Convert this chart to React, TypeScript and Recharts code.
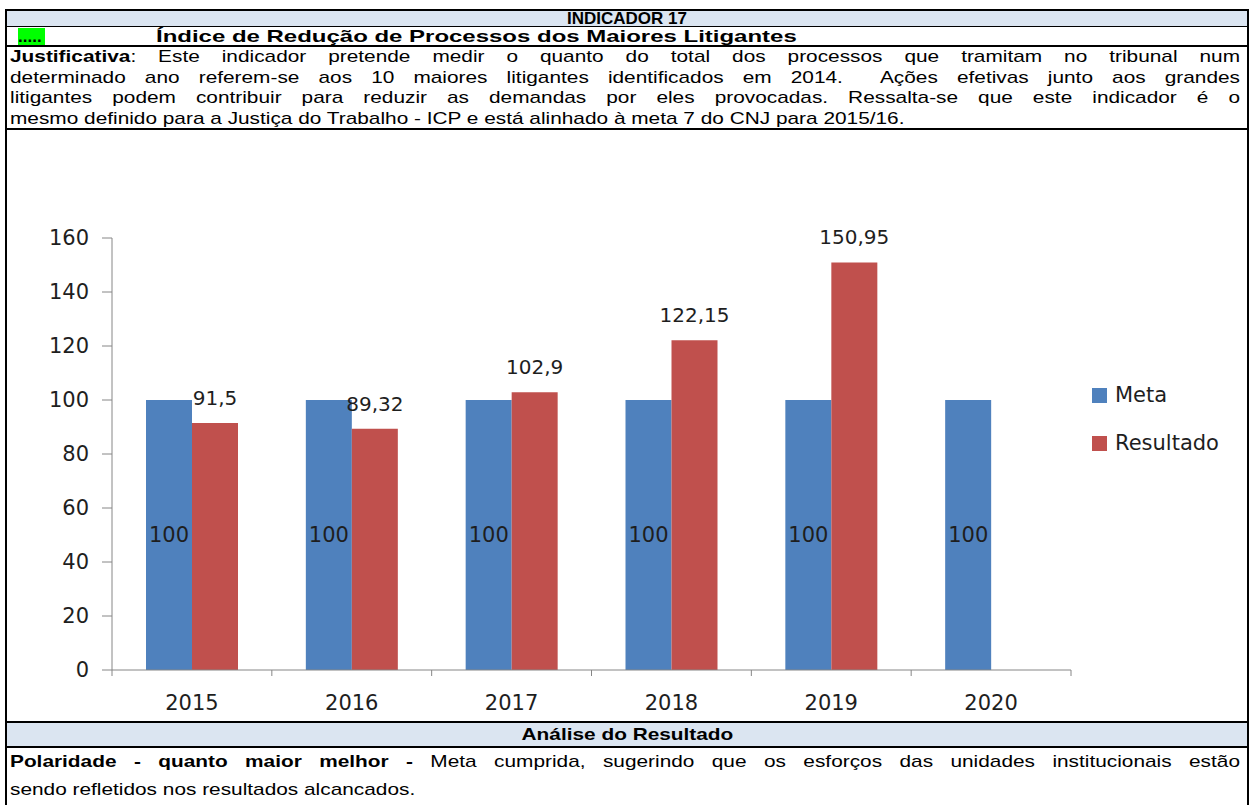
import React from "react";
import { BarChart, Bar, XAxis, YAxis, Legend, LabelList } from "recharts";

// Valores do indicador 17
const categories = ["2015", "2016", "2017", "2018", "2019", "2020"];
const metaValues = [100, 100, 100, 100, 100, 100];
const resultadoValues: (number | null)[] = [91.5, 89.32, 102.9, 122.15, 150.95, null];
const yTicks = [0, 20, 40, 60, 80, 100, 120, 140, 160];

const data = categories.map((ano, i) => ({
  ano,
  meta: metaValues[i],
  resultado: resultadoValues[i],
}));

const CHART_FONT = '"DejaVu Sans", sans-serif';
const TEXT_FONT = '"Liberation Sans", Arial, sans-serif';
const AXIS = "#868686";
const INK = "#1e1e1e";
const HEAD_BG = "#dbe5f1";
const STRETCH = 1.225;

const fmt = (v: any) => (v == null ? "" : String(v).replace(".", ","));

// rótulo do ano + marcas do eixo nas divisas entre categorias
function YearTick(props: any) {
  const { x, y, payload, index } = props;
  const off = payload.offset ?? 0;
  const axisY = y - 25;
  return (
    <g>
      <line x1={x - off} x2={x - off} y1={axisY} y2={axisY + 6} stroke={AXIS} />
      {index === categories.length - 1 && (
        <line x1={x + off} x2={x + off} y1={axisY} y2={axisY + 6} stroke={AXIS} />
      )}
      <text
        x={x}
        y={y}
        dy="0.71em"
        textAnchor="middle"
        fill={INK}
        fontFamily={CHART_FONT}
        fontSize={21}
      >
        {payload.value}
      </text>
    </g>
  );
}

function LegendBox({ payload }: any) {
  return (
    <div style={{ fontFamily: CHART_FONT, fontSize: 21, color: INK }}>
      {(payload || []).map((p: any) => (
        <div key={p.value} style={{ display: "flex", alignItems: "center", height: 48 }}>
          <span
            style={{ width: 15, height: 15, background: p.color, marginRight: 8, display: "inline-block" }}
          />
          {p.value}
        </div>
      ))}
    </div>
  );
}

function Line({ x, y, w, h }: { x: number; y: number; w: number; h: number }) {
  return <div style={{ position: "absolute", left: x, top: y, width: w, height: h, background: "#000" }} />;
}

const justLine: React.CSSProperties = {
  textAlign: "justify",
  textAlignLast: "justify",
  whiteSpace: "nowrap",
  height: 20.5,
  lineHeight: "20.5px",
};
const plainLine: React.CSSProperties = { height: 20.5, lineHeight: "20.5px", whiteSpace: "nowrap" };

// bloco de texto esticado na horizontal, como no original
function Stretched({ left, top, width, children, sx = STRETCH, style }: any) {
  return (
    <div
      style={{
        position: "absolute",
        left,
        top,
        width: width / sx,
        transform: `scaleX(${sx})`,
        transformOrigin: "0 0",
        fontSize: 17,
        ...style,
      }}
    >
      {children}
    </div>
  );
}

export default function App() {
  return (
    <div
      style={{
        position: "absolute",
        left: 0,
        top: 0,
        width: 1251,
        height: 805,
        overflow: "hidden",
        background: "#fff",
        fontFamily: TEXT_FONT,
        color: "#000",
      }}
    >
      {/* faixas azuis */}
      <div style={{ position: "absolute", left: 7, top: 11, width: 1240, height: 15, background: HEAD_BG }} />
      <div style={{ position: "absolute", left: 7, top: 723, width: 1240, height: 23, background: HEAD_BG }} />

      {/* cabeçalho */}
      <div
        style={{
          position: "absolute",
          left: 7,
          top: 9,
          width: 1240,
          height: 19,
          lineHeight: "19px",
          textAlign: "center",
          fontWeight: "bold",
          fontSize: 17,
        }}
      >
        INDICADOR 17
      </div>
      <div
        style={{
          position: "absolute",
          left: 18,
          top: 28,
          width: 27,
          height: 17,
          background: "#00ff00",
          fontWeight: "bold",
          fontSize: 17,
          lineHeight: "17px",
        }}
      >
        .....
      </div>
      <Stretched left={156} top={27} width={680} sx={1.41} style={{ height: 19, lineHeight: "19px", fontWeight: "bold", whiteSpace: "nowrap" }}>
        Índice de Redução de Processos dos Maiores Litigantes
      </Stretched>

      {/* justificativa */}
      <Stretched left={10} top={47} width={1230}>
        <div style={justLine}>
          <b>Justificativa</b>: Este indicador pretende medir o quanto do total dos processos que tramitam no tribunal num
        </div>
        <div style={justLine}>
          determinado ano referem-se aos 10 maiores litigantes identificados em 2014.&nbsp; Ações efetivas junto aos grandes
        </div>
        <div style={justLine}>
          litigantes podem contribuir para reduzir as demandas por eles provocadas. Ressalta-se que este indicador é o
        </div>
        <div style={plainLine}>
          mesmo definido para a Justiça do Trabalho - ICP e está alinhado à meta 7 do CNJ para 2015/16.
        </div>
      </Stretched>

      {/* gráfico */}
      <div style={{ position: "absolute", left: 8, top: 130 }}>
        <BarChart
          width={1238}
          height={590}
          data={data}
          margin={{ top: 108, right: 175, left: 22, bottom: 10 }}
          barSize={46}
          barGap={0}
        >
          <XAxis
            dataKey="ano"
            height={40}
            stroke={AXIS}
            tickLine={false}
            tickSize={6}
            tickMargin={19}
            tick={<YearTick />}
            interval={0}
          />
          <YAxis
            width={82}
            domain={[0, 160]}
            ticks={yTicks}
            stroke={AXIS}
            tickSize={10}
            tickMargin={13}
            tick={{ fill: INK, fontFamily: CHART_FONT, fontSize: 21 }}
          />
          <Legend
            layout="vertical"
            align="center"
            verticalAlign="middle"
            content={<LegendBox />}
            wrapperStyle={{ position: "absolute", left: 1084, top: 241, width: 150 }}
          />
          <Bar dataKey="meta" name="Meta" fill="#4f81bd" isAnimationActive={false}>
            <LabelList
              dataKey="meta"
              position="insideLeft"
              offset={3}
              fill={INK}
              fontFamily={CHART_FONT}
              fontSize={21}
            />
          </Bar>
          <Bar dataKey="resultado" name="Resultado" fill="#c0504d" isAnimationActive={false}>
            <LabelList
              dataKey="resultado"
              position="top"
              offset={18}
              formatter={fmt}
              fill={INK}
              fontFamily={CHART_FONT}
              fontSize={20}
            />
          </Bar>
        </BarChart>
      </div>

      {/* análise */}
      <div
        style={{
          position: "absolute",
          left: 7,
          top: 724,
          width: 1240,
          height: 22,
          lineHeight: "22px",
          textAlign: "center",
        }}
      >
        <span style={{ display: "inline-block", transform: `scaleX(${STRETCH})`, fontWeight: "bold", fontSize: 17 }}>
          Análise do Resultado
        </span>
      </div>
      <Stretched left={10} top={752} width={1230}>
        <div style={justLine}>
          <b>Polaridade - quanto maior melhor -</b> Meta cumprida, sugerindo que os esforços das unidades institucionais estão
        </div>
        <div style={{ ...plainLine, marginTop: 7 }}>sendo refletidos nos resultados alcancados.</div>
      </Stretched>

      {/* bordas da tabela */}
      <Line x={5} y={9} w={1244} h={2} />
      <Line x={5} y={9} w={2} h={800} />
      <Line x={1247} y={9} w={2} h={800} />
      <Line x={5} y={26} w={1244} h={1} />
      <Line x={5} y={45} w={1244} h={2} />
      <Line x={5} y={128} w={1244} h={2} />
      <Line x={5} y={721} w={1244} h={2} />
      <Line x={5} y={746} w={1244} h={2} />
    </div>
  );
}
